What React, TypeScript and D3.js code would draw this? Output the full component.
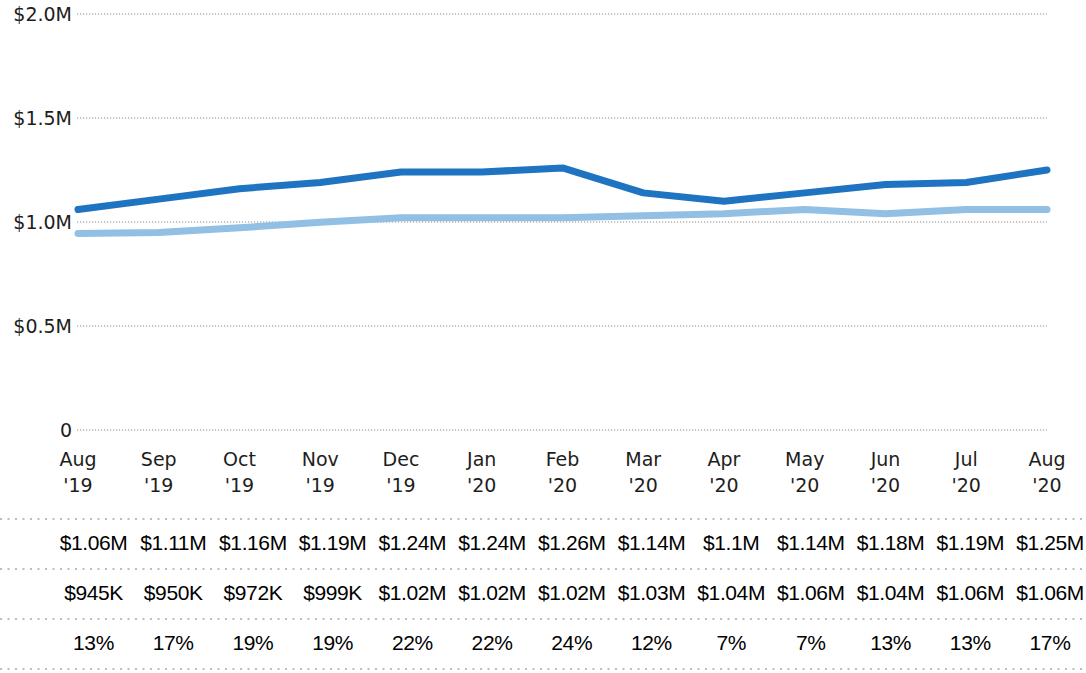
import React from 'react'
import * as d3 from 'd3'

// chart data
const months = ['Aug', 'Sep', 'Oct', 'Nov', 'Dec', 'Jan', 'Feb', 'Mar', 'Apr', 'May', 'Jun', 'Jul', 'Aug']
const years = ["'19", "'19", "'19", "'19", "'19", "'20", "'20", "'20", "'20", "'20", "'20", "'20", "'20"]
const thisYear = [1060000, 1110000, 1160000, 1190000, 1240000, 1240000, 1260000, 1140000, 1100000, 1140000, 1180000, 1190000, 1250000]
const lastYear = [945000, 950000, 972000, 999000, 1020000, 1020000, 1020000, 1030000, 1040000, 1060000, 1040000, 1060000, 1060000]
const growth = [13, 17, 19, 19, 22, 22, 24, 12, 7, 7, 13, 13, 17]
const yTicks = [0, 500000, 1000000, 1500000, 2000000]

const W = 1086
const H = 673
const axisFont = '"DejaVu Sans", sans-serif'
const tableFont = '"Liberation Sans", Arial, sans-serif'

function fmtTick(v: number) {
  if (v === 0) return '0'
  return '$' + d3.format('.1f')(v / 1e6) + 'M'
}

function fmtMoney(v: number) {
  if (v >= 1e6) return '$' + d3.format('.3~')(v / 1e6) + 'M'
  return '$' + d3.format('.3~')(v / 1e3) + 'K'
}

export default function App() {
  const idx = months.map((_, i) => i)

  const x = d3.scalePoint<number>().domain(idx).range([78, 1047])
  const y = d3.scaleLinear().domain([0, 2000000]).range([430, 14])
  // table columns sit a little to the right of the axis
  const col = d3.scalePoint<number>().domain(idx).range([93.5, 1050])

  const line = d3.line<number>()
    .x((_, i) => x(i) as number)
    .y(d => y(d))

  const tableRows = [
    thisYear.map(fmtMoney),
    lastYear.map(fmtMoney),
    growth.map(g => g + '%'),
  ]
  const rowBase = [550, 600, 650]
  const rowLines = [519, 569, 619, 669]

  return (
    <div style={{ position: 'fixed', left: 0, top: 0 }}>
      <svg width={W} height={H} viewBox={`0 0 ${W} ${H}`} style={{ display: 'block', background: '#fff' }}>
        {/* gridlines + y labels */}
        {yTicks.map(t => (
          <g key={t}>
            <line x1={77} x2={1047} y1={y(t)} y2={y(t)}
              stroke="#8a8a8a" strokeWidth={1} strokeDasharray="1.2 1.8" />
            <text x={72} y={y(t)} dy="0.35em" textAnchor="end"
              fontFamily={axisFont} fontSize={19} fill="#1e1d1c">{fmtTick(t)}</text>
          </g>
        ))}

        {/* month labels */}
        {idx.map(i => (
          <text key={i} x={x(i)} textAnchor="middle" fontFamily={axisFont} fontSize={19} fill="#1e1d1c">
            <tspan x={x(i)} y={466}>{months[i]}</tspan>
            <tspan x={x(i)} y={492}>{years[i]}</tspan>
          </text>
        ))}

        {/* lines */}
        <path d={line(lastYear) || ''} fill="none" stroke="#92bfe4" strokeWidth={7}
          strokeLinecap="round" strokeLinejoin="round" />
        <path d={line(thisYear) || ''} fill="none" stroke="#1f74c2" strokeWidth={7}
          strokeLinecap="round" strokeLinejoin="round" />

        {/* table */}
        {rowLines.map(ly => (
          <line key={ly} x1={0} x2={1082} y1={ly} y2={ly}
            stroke="#a8a8a8" strokeWidth={1.6} strokeDasharray="2 5.5" />
        ))}
        {tableRows.map((row, r) => row.map((s, i) => (
          <text key={r + '-' + i} x={col(i)} y={rowBase[r]} textAnchor="middle"
            fontFamily={tableFont} fontSize={21} letterSpacing={-0.4} fill="#000">{s}</text>
        )))}
      </svg>
    </div>
  )
}
